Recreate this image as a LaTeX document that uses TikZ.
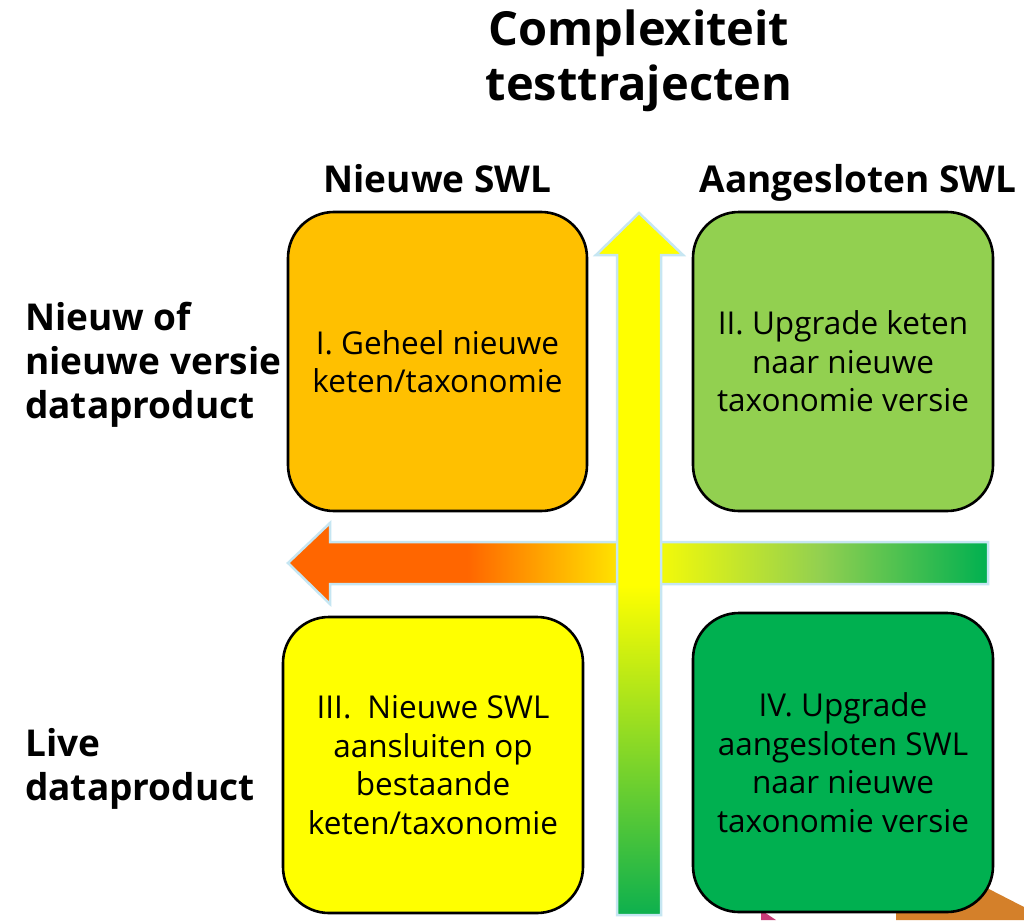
\documentclass[tikz,border=0pt]{standalone}
\usepackage{fontspec}
\setmainfont{Open Sans}
\definecolor{boxI}{HTML}{FFC000}
\definecolor{boxII}{HTML}{92D050}
\definecolor{boxIII}{HTML}{FFFF00}
\definecolor{boxIV}{HTML}{00B050}
\definecolor{arrowedge}{HTML}{C6E6F2}
\definecolor{ho1}{HTML}{FF6600}
\definecolor{ho2}{HTML}{FFE000}
\definecolor{ho3}{HTML}{FFFF00}
\definecolor{ho4}{HTML}{92D050}
\definecolor{ho5}{HTML}{00B050}
\definecolor{vg}{HTML}{0DB04E}
\definecolor{cornerorange}{HTML}{D4802A}
\definecolor{cornerpink}{HTML}{C83C78}
\pgfdeclarehorizontalshading{harrow}{100bp}{color(0bp)=(ho1); color(25bp)=(ho1); color(37.8bp)=(ho1); color(48.3bp)=(ho2); color(50.15bp)=(ho3); color(63bp)=(ho4); color(75bp)=(ho5); color(100bp)=(ho5)}
\pgfdeclareverticalshading{varrow}{100bp}{color(0bp)=(vg); color(25bp)=(vg); color(48.5bp)=(ho3); color(100bp)=(ho3)}
\begin{document}
\begin{tikzpicture}[x=1pt,y=-1pt,
  quad/.style={draw=black, line width=2.6pt, rounded corners=46pt, align=center,
    font=\fontsize{31.5}{38.5}\selectfont, inner sep=0pt},
  axislabel/.style={font=\bfseries\fontsize{37}{44}\selectfont, inner sep=0pt},
  arrowshape/.style={draw=arrowedge, line width=2.5pt}]
\useasboundingbox (0,0) rectangle (1024,920);
\fill[white] (0,0) rectangle (1024,920);
% partial shapes in the lower right corner
\fill[cornerorange] (896,920) -- (896,905) -- (985,887) -- (1024,907) -- (1024,920) -- cycle;
\fill[cornerpink] (761,910) -- (776,920) -- (761,920) -- cycle;
% arrows
\shadedraw[shading=harrow, arrowshape] (988,542) -- (330,542) -- (330,523) -- (288,563) -- (330,604) -- (330,584) -- (988,584) -- cycle;
\shadedraw[shading=varrow, arrowshape] (617,915) -- (617,255) -- (596,255) -- (639,213) -- (683,255) -- (661,255) -- (661,915) -- cycle;
% quadrants
\node[quad, fill=boxI, minimum width=299pt, minimum height=299pt] (q1) at (437.5,361.5) {I. Geheel nieuwe\\keten/taxonomie};
\node[quad, fill=boxII, minimum width=300pt, minimum height=299pt] (q2) at (843,361.5) {II. Upgrade keten\\naar nieuwe\\taxonomie versie};
\node[quad, fill=boxIII, minimum width=300pt, minimum height=296pt] (q3) at (433,765) {III.\hspace{0.25em} Nieuwe SWL\\aansluiten op\\bestaande\\keten/taxonomie};
\node[quad, fill=boxIV, minimum width=300pt, minimum height=299pt] (q4) at (843,762.5) {IV. Upgrade\\aangesloten SWL\\naar nieuwe\\taxonomie versie};
% labels
\node[font=\bfseries\fontsize{47}{55}\selectfont, align=center, inner sep=0pt] (title) at (639,61) {Complexiteit\\testtrajecten};
\node[axislabel, anchor=base] (h1) at (437.5,193) {Nieuwe SWL};
\node[axislabel, anchor=base] (h2) at (858,193) {Aangesloten SWL};
\node[axislabel, align=left, anchor=west] (r1) at (25,364.5) {Nieuw of\\nieuwe versie\\dataproduct};
\node[axislabel, align=left, anchor=west] (r2) at (25,768.5) {Live\\dataproduct};
\end{tikzpicture}
\end{document}
